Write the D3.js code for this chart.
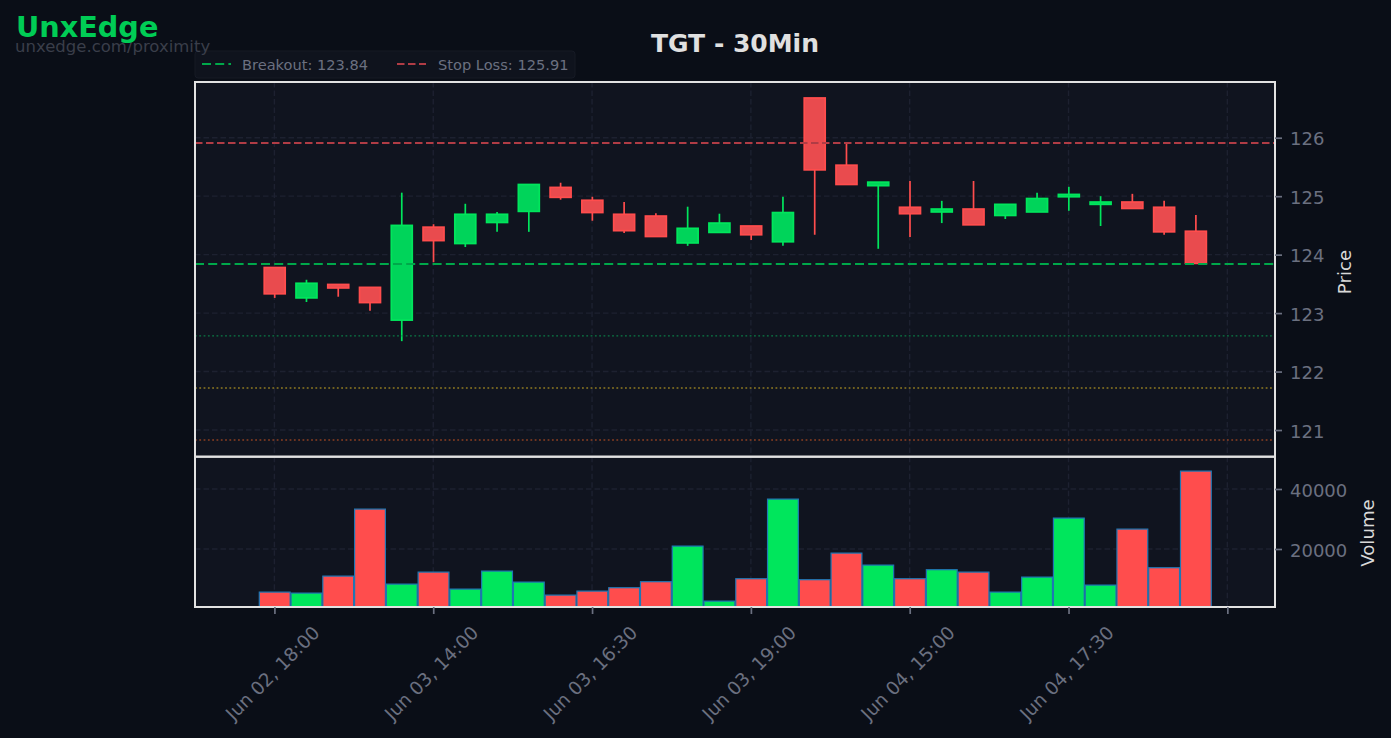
<!DOCTYPE html>
<html>
<head>
<meta charset="utf-8">
<script src="https://cdn.jsdelivr.net/npm/d3@7"></script>
<style>
  html, body { margin: 0; padding: 0; background: #0a0e17; overflow: hidden; }
  text { font-family: "DejaVu Sans", sans-serif; }
</style>
</head>
<body>
<div id="chart"></div>
<script>
"use strict";

const opens = [123.78, 123.26, 123.49, 123.44, 122.88, 124.47, 124.19, 124.55, 124.74, 125.15,
  124.93, 124.69, 124.66, 124.20, 124.38, 124.49, 124.22, 126.68, 125.53, 125.18,
  124.81, 124.73, 124.78, 124.67, 124.73, 124.99, 124.86, 124.90, 124.81, 124.40];
const closes = [123.33, 123.51, 123.43, 123.18, 124.50, 124.24, 124.69, 124.69, 125.20, 124.98,
  124.72, 124.41, 124.31, 124.45, 124.54, 124.34, 124.72, 125.45, 125.20, 125.24,
  124.70, 124.78, 124.51, 124.86, 124.96, 125.03, 124.90, 124.79, 124.39, 123.85];
const highs = [123.78, 123.57, 123.49, 123.44, 125.06, 124.52, 124.87, 124.73, 125.20, 125.23,
  124.99, 124.90, 124.71, 124.82, 124.70, 124.49, 124.99, 126.68, 125.91, 125.24,
  125.26, 124.92, 125.26, 124.86, 125.06, 125.16, 125.00, 125.04, 124.92, 124.68];
const lows = [123.26, 123.19, 123.28, 123.04, 122.52, 123.87, 124.13, 124.39, 124.39, 124.94,
  124.58, 124.37, 124.31, 124.15, 124.38, 124.25, 124.15, 124.34, 125.20, 124.10,
  124.30, 124.54, 124.51, 124.61, 124.73, 124.75, 124.49, 124.79, 124.34, 123.85];
const volumes = [5633, 5300, 10967, 33300, 8300, 12300, 6633, 12633, 8967, 4633,
  5967, 7100, 9100, 20967, 2633, 10100, 36633, 9767, 18633, 14633,
  10100, 13100, 12300, 5633, 10633, 30300, 7967, 26633, 13767, 45967];

const xTicks = [0, 5, 10, 15, 20, 25, 30];
const xTickLabels = ["Jun 02, 18:00", "Jun 03, 14:00", "Jun 03, 16:30", "Jun 03, 19:00", "Jun 04, 15:00", "Jun 04, 17:30", ""];
const priceTicks = [121, 122, 123, 124, 125, 126];
const volumeTicks = [20000, 40000];

const breakout = 123.84;
const stopLoss = 125.91;
const target1 = 122.61;
const target2 = 121.72;
const target3 = 120.83;

const W = 1391, H = 738;
const left = 195, right = 1275, priceTop = 82, priceBottom = 456.5, volTop = 457, volBottom = 607;
const splitY = 456.7;

const GREEN = "#00e65c", RED = "#ff4d4d", GRID = "#1d2130";

const svg = d3.select("#chart").append("svg")
  .attr("width", W).attr("height", H)
  .style("display", "block");

svg.append("rect").attr("width", W).attr("height", H).attr("fill", "#0a0e17");

const x = d3.scaleLinear().domain([-2.5, 31.5]).range([left, right]);
const yPrice = d3.scaleLinear().domain([120.547, 126.953]).range([priceBottom, priceTop]);
const yVol = d3.scaleLinear().domain([667, 50667]).range([volBottom, volTop]);

const idx = d3.range(opens.length);

// panels
function panel(y0, y1) {
  svg.append("rect").attr("x", left).attr("y", y0)
    .attr("width", right - left).attr("height", y1 - y0).attr("fill", "#10141f");
}
panel(priceTop, splitY);
panel(splitY, volBottom);

// grid
function grid(y, ticks, y0, y1) {
  const g = svg.append("g");
  g.selectAll("line.h").data(ticks).enter().append("line")
    .attr("x1", left).attr("x2", right)
    .attr("y1", (d) => y(d)).attr("y2", (d) => y(d))
    .attr("stroke", GRID).attr("stroke-width", 1.4).attr("stroke-dasharray", "5.5,3");
  g.selectAll("line.v").data(xTicks).enter().append("line")
    .attr("x1", (d) => x(d)).attr("x2", (d) => x(d))
    .attr("y1", y0).attr("y2", y1)
    .attr("stroke", GRID).attr("stroke-width", 1.4).attr("stroke-dasharray", "5.5,3");
}
grid(yPrice, priceTicks, priceTop, splitY);
grid(yVol, volumeTicks, splitY, volBottom);

// candles
const bodyW = 0.66 * (x(1) - x(0));
const wicks = svg.append("g");
wicks.selectAll("line").data(idx).enter().append("line")
  .attr("x1", (i) => x(i) + 0.3).attr("x2", (i) => x(i) + 0.3)
  .attr("y1", (i) => yPrice(highs[i])).attr("y2", (i) => yPrice(lows[i]))
  .attr("stroke", (i) => (closes[i] >= opens[i] ? GREEN : RED))
  .attr("stroke-width", 1.7);
const bodies = svg.append("g");
bodies.selectAll("rect").data(idx).enter().append("rect")
  .attr("x", (i) => x(i) - bodyW / 2 + 0.3)
  .attr("width", bodyW)
  .attr("y", (i) => yPrice(Math.max(opens[i], closes[i])))
  .attr("height", (i) => Math.abs(yPrice(opens[i]) - yPrice(closes[i])))
  .attr("fill", (i) => (closes[i] >= opens[i] ? "#00d45a" : "#e94b4e"))
  .attr("stroke", (i) => (closes[i] >= opens[i] ? GREEN : RED))
  .attr("stroke-width", 1.7);

// level lines
function level(value, color, width, dash) {
  svg.append("line")
    .attr("x1", left).attr("x2", right)
    .attr("y1", yPrice(value)).attr("y2", yPrice(value))
    .attr("stroke", color).attr("stroke-width", width).attr("stroke-dasharray", dash);
}
level(breakout, "#00a84a", 2.2, "9,4.2");
level(stopLoss, "#b03c45", 1.9, "7.5,3.5");
level(target1, "#0b7a46", 1.4, "1.8,2.5");
level(target2, "#8f7a22", 1.4, "1.8,2.5");
level(target3, "#8a3f22", 1.4, "1.8,2.5");

// volume bars
const volW = 0.97 * (x(1) - x(0));
svg.append("g").selectAll("rect").data(idx).enter().append("rect")
  .attr("x", (i) => x(i) - volW / 2 + 0.3)
  .attr("width", volW)
  .attr("y", (i) => yVol(volumes[i]))
  .attr("height", (i) => volBottom - yVol(volumes[i]))
  .attr("fill", (i) => (closes[i] >= opens[i] ? GREEN : RED))
  .attr("stroke", "#1f77b4")
  .attr("stroke-width", 1.2);

// panel borders
function border(y0, y1) {
  svg.append("rect").attr("x", left).attr("y", y0)
    .attr("width", right - left).attr("height", y1 - y0)
    .attr("fill", "none").attr("stroke", "#e2e2e2").attr("stroke-width", 2);
}
border(priceTop, splitY);
border(splitY, volBottom);

// axes
function styleAxis(g, size) {
  g.select(".domain").remove();
  g.selectAll(".tick line").attr("stroke", "#6b7080").attr("stroke-width", 1.7);
  g.selectAll(".tick text")
    .attr("fill", "#6b7080")
    .style("font-size", size + "px")
    .style("font-family", "'DejaVu Sans', sans-serif");
}

const priceAxis = svg.append("g").attr("transform", `translate(${right},0)`)
  .call(d3.axisRight(yPrice).tickValues(priceTicks).tickFormat(d3.format("d")).tickSize(7).tickPadding(8));
styleAxis(priceAxis, 18);
priceAxis.selectAll(".tick text").attr("y", 1.5);

const volAxis = svg.append("g").attr("transform", `translate(${right},0)`)
  .call(d3.axisRight(yVol).tickValues(volumeTicks).tickFormat(d3.format("d")).tickSize(7).tickPadding(8));
styleAxis(volAxis, 18);
volAxis.selectAll(".tick text").attr("y", 1.5);

const timeAxis = svg.append("g").attr("transform", `translate(0,${volBottom})`)
  .call(d3.axisBottom(x).tickValues(xTicks)
    .tickFormat((d) => xTickLabels[xTicks.indexOf(d)]).tickSize(7));
styleAxis(timeAxis, 18.5);
timeAxis.selectAll(".tick text")
  .attr("text-anchor", "middle")
  .attr("dy", null)
  .attr("y", 0)
  .attr("dominant-baseline", "central")
  .attr("transform", "translate(-2.3,66) rotate(-45)");

// axis titles
svg.append("text")
  .attr("transform", `translate(1344,272) rotate(-90)`)
  .attr("text-anchor", "middle").attr("dominant-baseline", "central")
  .attr("fill", "#d9d9d9").style("font-size", "18.2px").text("Price");
svg.append("text")
  .attr("transform", `translate(1367,533) rotate(-90)`)
  .attr("text-anchor", "middle").attr("dominant-baseline", "central")
  .attr("fill", "#d9d9d9").style("font-size", "18.2px").text("Volume");

// title
svg.append("text").attr("x", 735).attr("y", 51.8).attr("text-anchor", "middle")
  .attr("fill", "#e0e0e0").style("font-size", "25px").style("font-weight", "bold")
  .text("TGT - 30Min");

// legend
const legend = svg.append("g");
legend.append("rect").attr("x", 195).attr("y", 51).attr("width", 380).attr("height", 27).attr("rx", 3)
  .attr("fill", "#0f131d").attr("stroke", "#161a25").attr("stroke-width", 1);
const legendItems = [
  { x1: 202, tx: 242, color: "#00a84a", dash: "9,4.2", label: "Breakout: " + breakout.toFixed(2) },
  { x1: 397, tx: 438, color: "#b03c45", dash: "7.5,3.5", label: "Stop Loss: " + stopLoss.toFixed(2) },
];
legendItems.forEach((d) => {
  legend.append("line").attr("x1", d.x1).attr("x2", d.x1 + 29).attr("y1", 64).attr("y2", 64)
    .attr("stroke", d.color).attr("stroke-width", 2).attr("stroke-dasharray", d.dash);
  legend.append("text").attr("x", d.tx).attr("y", 70)
    .attr("fill", "#6b7080").style("font-size", "14.6px").text(d.label);
});

// branding
svg.append("text").attr("x", 15).attr("y", 51.5)
  .attr("fill", "#3a3e4a").style("font-size", "16.5px")
  .text("unxedge.com/proximity");
svg.append("text").attr("x", 16).attr("y", 37)
  .attr("fill", "#00cc55").style("font-size", "28.7px").style("font-weight", "bold")
  .text("UnxEdge");
</script>
</body>
</html>
